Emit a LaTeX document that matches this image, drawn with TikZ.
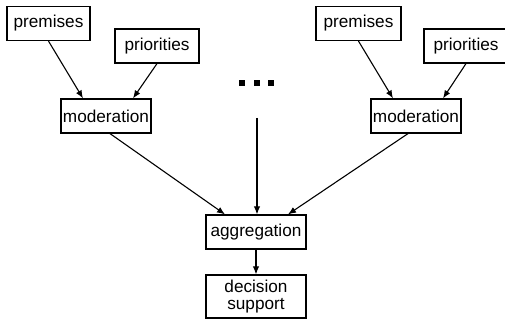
\documentclass[tikz,border=0pt]{standalone}
\usepackage{fontspec}
\setmainfont{Liberation Sans}
\usepackage{tikz}
\usetikzlibrary{positioning,arrows.meta}

\begin{document}
\begin{tikzpicture}[x=0.5pt, y=0.5pt,
  every node/.style={font=\fontsize{8.6}{8.4}\selectfont},
  box/.style={draw, line width=0.6pt, inner sep=1pt, align=center, minimum height=17pt},
  dot/.style={fill, rectangle, inner sep=0pt, minimum size=2.7pt},
  arr/.style={-{Latex[length=4pt, width=3.2pt]}, line width=0.55pt}]
\clip (0,0) rectangle (505,322);
% left branch
\node[box, minimum width=41.5pt] (premL) at (48.5,298.5) {premises};
\node[box, minimum width=42pt] (prioL) at (157,276) {priorities};
\node[box, minimum width=45pt] (modL) at (106,206) {moderation};
% right branch
\node[box, minimum width=42.5pt] (premR) at (358.5,298.5) {premises};
\node[box, minimum width=42pt] (prioR) at (466,276) {priorities};
\node[box, minimum width=45pt] (modR) at (416,206) {moderation};
% middle
\foreach \i/\x in {1/242,2/257,3/271} \node[dot] (dot\i) at (\x,239) {};
\coordinate (mid) at (257,204);
\node[box, minimum width=50pt] (agg) at (256,90) {aggregation};
\node[box, minimum width=50pt, minimum height=21.5pt] (dec) at (256,25.5) {decision\\ support};
\draw[arr] (premL.south) -- ([xshift=-11.5pt]modL.north);
\draw[arr] (prioL.south) -- ([xshift=13.5pt]modL.north);
\draw[arr] (premR.south) -- ([xshift=-11.5pt]modR.north);
\draw[arr] (prioR.south) -- ([xshift=13.5pt]modR.north);
\draw[arr] ([xshift=2pt]modL.south) -- ([xshift=-15.5pt]agg.north);
\draw[arr] ([xshift=-4pt]modR.south) -- ([xshift=16pt]agg.north);
\draw[arr] (mid) -- (mid |- agg.north);
\draw[arr] (agg) -- (dec);
\end{tikzpicture}
\end{document}
